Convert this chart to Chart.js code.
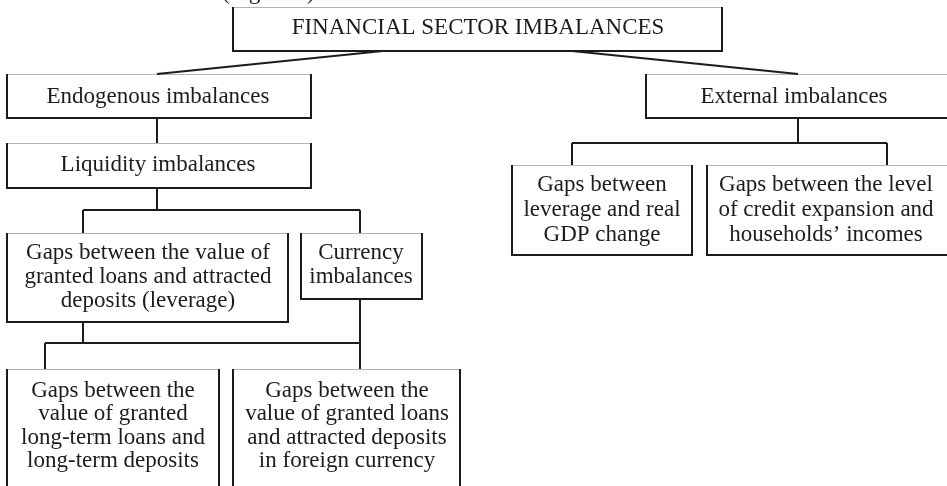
<!DOCTYPE html>
<html>
<head>
<meta charset="utf-8">
<script src="https://cdn.jsdelivr.net/npm/chart.js@4.4.1/dist/chart.umd.min.js"></script>
<style>
  html, body { margin: 0; padding: 0; background: #fff; }
  #wrap { width: 947px; height: 486px; position: relative; }
</style>
</head>
<body>
<div id="wrap"><canvas id="diagram"></canvas></div>
<script>
// boxes of the scheme, in diagram units (x 0..947, y 0..486 from the top)
const boxText = [
  ['FINANCIAL SECTOR IMBALANCES'],
  ['Endogenous imbalances'],
  ['External imbalances'],
  ['Liquidity imbalances'],
  ['Gaps between', 'leverage and real', 'GDP change'],
  ['Gaps between the level', 'of credit expansion and', 'households\u2019 incomes'],
  ['Gaps between the value of', 'granted loans and attracted', 'deposits (leverage)'],
  ['Currency', 'imbalances'],
  ['Gaps between the', 'value of granted', 'long-term loans and', 'long-term deposits'],
  ['Gaps between the', 'value of granted loans', 'and attracted deposits', 'in foreign currency']
];
const boxLeft   = [233,   7, 646,   7, 512, 707,   7, 301,   7, 233];
const boxTop    = [  7,  74,  74, 143, 165, 165, 233, 233, 369, 369];
const boxRight  = [722, 311, 960, 311, 692, 960, 288, 422, 219, 460];
const boxBottom = [ 51, 118, 118, 188, 255, 255, 322, 299, 500, 500];
const textCenter = [478, 158, 794, 158, 602, 826, 148, 361, 113, 347];
const textBase   = [ 34, 103, 103, 171, 191, 191, 259, 259, 397, 397];
const lineStep   = [ 24,  24,  24,  24,  25,  25,  24,  24, 23.3, 23.3];

// connector segments: [x1, y1, x2, y2]
const links = [
  [383, 51, 157, 74],
  [572, 51, 798, 74],
  [157, 118, 157, 143],
  [157, 188, 157, 210],
  [83, 210, 360, 210],
  [83, 210, 83, 233],
  [360, 210, 360, 233],
  [798, 118, 798, 143],
  [572, 143, 887, 143],
  [572, 143, 572, 165],
  [887, 143, 887, 165],
  [83, 322, 83, 343],
  [45, 343, 360, 343],
  [45, 343, 45, 369],
  [360, 299, 360, 369]
];

// caption above, mostly cut off by the top edge
const caption = '(Figure 1)';
const captionAt = [222, -1.5];

const FONT = '23px "Liberation Serif", "Times New Roman", serif';
const INK = '#1c1c1c';

const boxesPlugin = {
  id: 'boxes',
  beforeDatasetsDraw(chart) {
    const { ctx, scales: { x, y } } = chart;
    ctx.save();
    boxText.forEach((_, i) => {
      const l = x.getPixelForValue(boxLeft[i]);
      const r = x.getPixelForValue(boxRight[i]);
      const t = y.getPixelForValue(boxTop[i]);
      const b = y.getPixelForValue(boxBottom[i]);
      // light top edge
      ctx.strokeStyle = '#b4b4b4';
      ctx.lineWidth = 1;
      ctx.beginPath();
      ctx.moveTo(l, t + 0.5);
      ctx.lineTo(r, t + 0.5);
      ctx.stroke();
      // dark sides and bottom
      ctx.strokeStyle = INK;
      ctx.lineWidth = 2;
      ctx.beginPath();
      ctx.moveTo(l, t);
      ctx.lineTo(l, b);
      ctx.lineTo(r, b);
      ctx.lineTo(r, t);
      ctx.stroke();
    });
    ctx.restore();
  },
  afterDatasetsDraw(chart) {
    const { ctx, scales: { x, y } } = chart;
    ctx.save();
    ctx.font = FONT;
    ctx.fillStyle = INK;
    ctx.textBaseline = 'alphabetic';
    ctx.textAlign = 'center';
    boxText.forEach((lines, i) => {
      lines.forEach((line, k) => {
        ctx.fillText(line,
          x.getPixelForValue(textCenter[i]),
          y.getPixelForValue(textBase[i] + k * lineStep[i]));
      });
    });
    ctx.textAlign = 'left';
    ctx.fillText(caption, x.getPixelForValue(captionAt[0]), y.getPixelForValue(captionAt[1]));
    ctx.restore();
  }
};

const datasets = links.map((s) => ({
  data: [{ x: s[0], y: s[1] }, { x: s[2], y: s[3] }],
  showLine: true,
  borderColor: INK,
  borderWidth: 2,
  pointRadius: 0,
  fill: false,
  clip: false
}));

new Chart(document.getElementById('diagram'), {
  type: 'scatter',
  data: { datasets },
  options: {
    responsive: true,
    maintainAspectRatio: false,
    animation: false,
    layout: { padding: 0 },
    plugins: { legend: { display: false }, tooltip: { enabled: false } },
    events: [],
    scales: {
      x: { type: 'linear', min: 0, max: 947, display: false },
      y: { type: 'linear', min: 0, max: 486, reverse: true, display: false }
    }
  },
  plugins: [boxesPlugin]
});
</script>
</body>
</html>
